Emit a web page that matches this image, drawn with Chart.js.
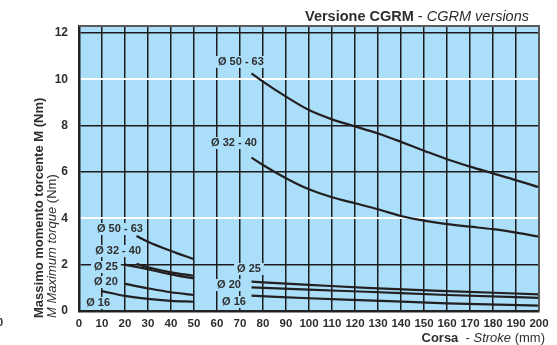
<!DOCTYPE html>
<html>
<head>
<meta charset="utf-8">
<script src="https://cdn.jsdelivr.net/npm/chart.js@4.4.0/dist/chart.umd.min.js"></script>
<style>
    html, body { margin: 0; padding: 0; background: #fff; }
</style>
</head>
<body>
<canvas id="chart" width="557" height="345"></canvas>
<script>
// Axis ticks
const xTicks = [0, 10, 20, 30, 40, 50, 60, 70, 80, 90, 100, 110, 120, 130, 140, 150, 160, 170, 180, 190, 200];
const yTicks = [0, 2, 4, 6, 8, 10, 12];
const whiteRows = [4, 10];

// Short strokes (up to 50 mm)
const stroke5063Short = [25, 30, 40, 50];
const torque5063Short = [3.24, 2.99, 2.59, 2.23];
const stroke3240Short = [25, 30, 40, 50];
const torque3240Short = [2.04, 1.89, 1.67, 1.52];
const stroke25Short = [20, 30, 40, 50];
const torque25Short = [2.0, 1.8, 1.58, 1.41];
const stroke20Short = [20, 30, 40, 50];
const torque20Short = [1.17, 0.98, 0.81, 0.69];
const stroke16Short = [10, 20, 30, 40, 50];
const torque16Short = [0.86, 0.65, 0.52, 0.44, 0.4];

// Long strokes (75 - 200 mm)
const strokeLong = [75, 80, 90, 100, 110, 120, 130, 140, 150, 160, 170, 180, 190, 200];
const torque5063Long = [10.26, 9.9, 9.25, 8.67, 8.27, 7.97, 7.66, 7.3, 6.92, 6.55, 6.23, 5.94, 5.65, 5.34];
const torque3240Long = [6.62, 6.3, 5.73, 5.25, 4.91, 4.65, 4.39, 4.1, 3.9, 3.75, 3.64, 3.53, 3.38, 3.21];
const stroke25Long = [75, 90, 100, 125, 160, 200];
const torque25Long = [1.27, 1.18, 1.13, 1.0, 0.86, 0.72];
const stroke20Long = [75, 100, 125, 160, 200];
const torque20Long = [1.02, 0.92, 0.83, 0.69, 0.57];
const stroke16Long = [75, 100, 125, 160, 200];
const torque16Long = [0.66, 0.55, 0.46, 0.33, 0.23];

// Curve labels, anchored in data units
const curveLabels = [
    { text: 'Ø 50 - 63', x: 70.4, y: 10.75 },
    { text: 'Ø 32 - 40', x: 67.4, y: 7.25 },
    { text: 'Ø 50 - 63', x: 17.8, y: 3.54 },
    { text: 'Ø 32 - 40', x: 17.0, y: 2.59 },
    { text: 'Ø 25', x: 11.7, y: 1.9 },
    { text: 'Ø 20', x: 11.7, y: 1.25 },
    { text: 'Ø 16', x: 8.3, y: 0.35 },
    { text: 'Ø 25', x: 73.9, y: 1.81 },
    { text: 'Ø 20', x: 65.2, y: 1.12 },
    { text: 'Ø 16', x: 67.4, y: 0.39 }
];

const plotBg = '#abdff9';
const ink = '#2e2e2e';
const gridDark = '#1c1c1c';
const FONT = '"Liberation Sans", Arial, Helvetica, sans-serif';

const series = [
    [stroke5063Short, torque5063Short],
    [stroke3240Short, torque3240Short],
    [stroke25Short, torque25Short],
    [stroke20Short, torque20Short],
    [stroke16Short, torque16Short],
    [strokeLong, torque5063Long],
    [strokeLong, torque3240Long],
    [stroke25Long, torque25Long],
    [stroke20Long, torque20Long],
    [stroke16Long, torque16Long]
];

const datasets = series.map(([xs, ys]) => ({
    data: xs.map((v, i) => ({ x: v, y: ys[i] })),
    borderColor: '#231f20',
    borderWidth: 2.2,
    pointRadius: 0,
    fill: false,
    cubicInterpolationMode: 'monotone'
}));

// draws a row of text pieces with different fonts
function drawRuns(ctx, runs, x, y, align) {
    let total = 0;
    runs.forEach(r => {
        ctx.font = r.font;
        total += ctx.measureText(r.text).width;
    });
    let cx = align === 'right' ? x - total : x;
    ctx.textAlign = 'left';
    runs.forEach(r => {
        ctx.font = r.font;
        ctx.fillText(r.text, cx, y);
        cx += ctx.measureText(r.text).width;
    });
}

const decor = {
    id: 'decor',
    beforeDraw(chart) {
        const { ctx, chartArea: a } = chart;
        ctx.save();
        ctx.fillStyle = plotBg;
        ctx.fillRect(a.left, a.top, a.right - a.left, a.bottom - a.top);
        ctx.restore();
    },
    afterDatasetsDraw(chart) {
        const { ctx, scales: { x, y } } = chart;
        ctx.save();
        ctx.font = 'bold 11px ' + FONT;
        ctx.textAlign = 'center';
        ctx.textBaseline = 'middle';
        curveLabels.forEach(l => {
            const px = x.getPixelForValue(l.x);
            const py = y.getPixelForValue(l.y);
            const w = ctx.measureText(l.text).width;
            ctx.fillStyle = plotBg;
            ctx.fillRect(px - w / 2 - 3, py - 6, w + 6, 12);
            ctx.fillStyle = ink;
            ctx.fillText(l.text, px, py);
        });
        ctx.restore();
    },
    afterDraw(chart) {
        const { ctx, chartArea: a } = chart;
        ctx.save();
        // top / right frame
        ctx.strokeStyle = '#5a5a5a';
        ctx.lineWidth = 2;
        ctx.beginPath();
        ctx.moveTo(a.left, a.top);
        ctx.lineTo(a.right, a.top);
        ctx.lineTo(a.right, a.bottom);
        ctx.stroke();

        ctx.fillStyle = ink;
        ctx.textBaseline = 'middle';

        // title
        drawRuns(ctx, [
            { text: 'Versione CGRM', font: 'bold 14.5px ' + FONT },
            { text: ' - ', font: '14.5px ' + FONT },
            { text: 'CGRM versions', font: 'italic 14.5px ' + FONT }
        ], 529, 17, 'right');

        // x title
        drawRuns(ctx, [
            { text: 'Corsa', font: 'bold 13px ' + FONT },
            { text: '  - ', font: '13px ' + FONT },
            { text: 'Stroke', font: 'italic 13px ' + FONT },
            { text: ' (mm)', font: '13px ' + FONT }
        ], 545, 338, 'right');

        // stray label cut at the left edge
        ctx.font = 'bold 11px ' + FONT;
        ctx.textAlign = 'right';
        ctx.fillText('0', 3, 323);

        // y titles
        ctx.translate(39, 318);
        ctx.rotate(-Math.PI / 2);
        drawRuns(ctx, [
            { text: 'Massimo momento torcente M (Nm)', font: 'bold 13px ' + FONT }
        ], 0, 0, 'left');
        drawRuns(ctx, [
            { text: 'M Maximum torque', font: 'italic 13px ' + FONT },
            { text: ' (Nm)', font: '13px ' + FONT }
        ], 0, 13, 'left');
        ctx.restore();
    }
};

new Chart(document.getElementById('chart'), {
    type: 'line',
    data: { datasets },
    options: {
        responsive: false,
        animation: false,
        layout: { padding: { top: 26, right: 18, left: 0, bottom: 0 } },
        plugins: {
            legend: { display: false },
            tooltip: { enabled: false }
        },
        scales: {
            x: {
                type: 'linear',
                min: 0,
                max: 200,
                afterBuildTicks: s => { s.ticks = xTicks.map(v => ({ value: v })); },
                afterFit: s => { s.height = 34; },
                grid: { color: gridDark, lineWidth: 1.5, drawTicks: false },
                border: { color: '#222', width: 2.5 },
                ticks: {
                    color: ink,
                    font: { family: FONT, size: 11.5, weight: 'bold' },
                    padding: 6,
                    maxRotation: 0,
                    autoSkip: false
                }
            },
            y: {
                type: 'linear',
                min: 0,
                max: 12.3,
                afterBuildTicks: s => { s.ticks = yTicks.map(v => ({ value: v })); },
                afterFit: s => { s.width = 79; },
                grid: {
                    color: c => whiteRows.includes(c.tick.value) ? '#ffffff' : gridDark,
                    lineWidth: c => whiteRows.includes(c.tick.value) ? 2 : 1.5,
                    drawTicks: false
                },
                border: { color: '#222', width: 2.5 },
                ticks: {
                    color: ink,
                    font: { family: FONT, size: 12, weight: 'bold' },
                    padding: 11
                }
            }
        }
    },
    plugins: [decor]
});
</script>
</body>
</html>
